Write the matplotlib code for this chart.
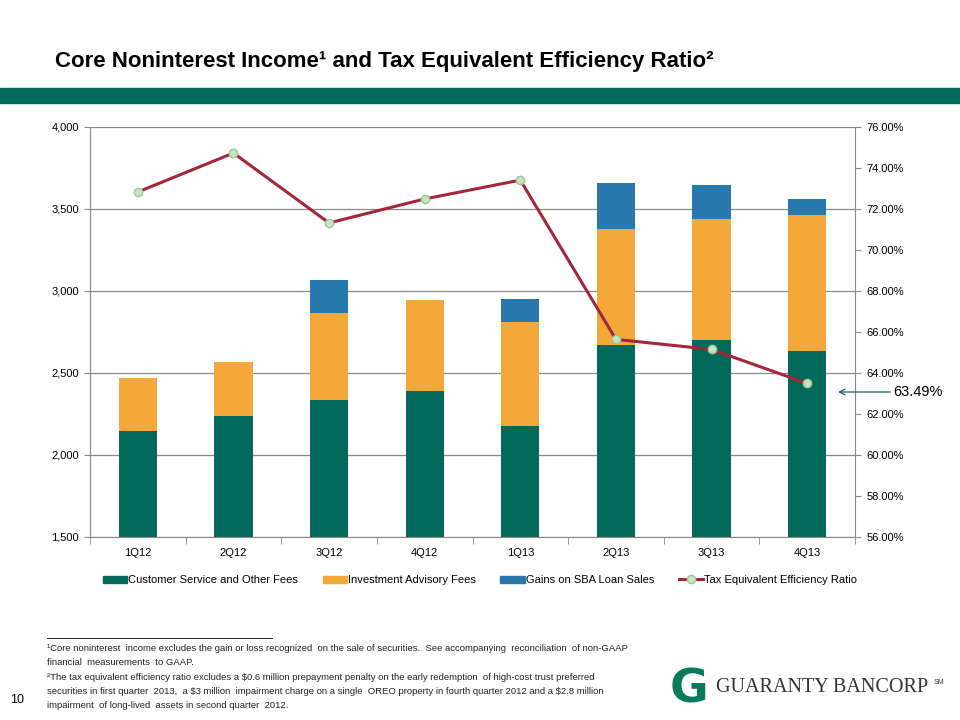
# Core noninterest income + tax equivalent efficiency ratio (slide recreation)
import matplotlib
matplotlib.use("Agg")
from matplotlib import pyplot as plt
from matplotlib.patches import Patch
from matplotlib.lines import Line2D
import numpy as np

quarters = ["1Q12", "2Q12", "3Q12", "4Q12", "1Q13", "2Q13", "3Q13", "4Q13"]
customer_fees = [2145, 2238, 2335, 2390, 2177, 2671, 2701, 2636]
advisory_fees = [325, 329, 531, 555, 634, 705, 740, 827]
sba_gains = [0, 0, 201, 0, 140, 284, 205, 98]
efficiency_ratio = [72.83, 74.73, 71.32, 72.49, 73.41, 65.64, 65.15, 63.49]

GREEN = "#03695A"
ORANGE = "#F4A83A"
BLUE = "#2878AE"
RED = "#A3263A"

plt.rcParams["font.family"] = ["Liberation Sans", "DejaVu Sans"]

fig = plt.figure(figsize=(9.6, 7.2), dpi=100)

# header
fig.text(55 / 960, 1 - 67 / 720, "Core Noninterest Income¹ and Tax Equivalent Efficiency Ratio²",
         fontsize=16, fontweight="bold", va="baseline", ha="left")
fig.patches.append(plt.Rectangle((0, 1 - 103 / 720), 1, 15 / 720, transform=fig.transFigure,
                                 color="#006B5B", zorder=0))

ax = fig.add_axes([90 / 960, 1 - 537 / 720, 765 / 960, 410 / 720])
x = np.arange(len(quarters))
w = 0.4
cust = np.array(customer_fees)
adv = np.array(advisory_fees)
sba = np.array(sba_gains)
ax.bar(x, cust, w, color=GREEN, linewidth=0, zorder=2)
ax.bar(x, adv, w, bottom=cust, color=ORANGE, linewidth=0, zorder=2)
ax.bar(x, sba, w, bottom=cust + adv, color=BLUE, linewidth=0, zorder=2)

ax.set_ylim(1500, 4000)
ax.set_yticks(np.arange(1500, 4001, 500))
ax.set_yticklabels([f"{v:,}" for v in range(1500, 4001, 500)], fontsize=8)
ax.set_xlim(-0.5, 7.5)
ax.set_xticks(x)
ax.set_xticklabels(quarters, fontsize=8)
ax.set_xticks(np.arange(-0.5, 8, 1), minor=True)
ax.tick_params(axis="x", which="major", length=0, pad=8)
ax.tick_params(axis="x", which="minor", length=5, color="#888888")
ax.tick_params(axis="y", length=4, color="#888888", pad=4)
ax.grid(axis="y", color="#888888", linewidth=0.9, zorder=0)
ax.set_axisbelow(True)
for s in ["top", "right"]:
    ax.spines[s].set_visible(False)
for s in ["left", "bottom"]:
    ax.spines[s].set_color("#888888")

ax2 = ax.twinx()
ax2.plot(x, efficiency_ratio, color=RED, linewidth=2.2, marker="o", markersize=6,
         markerfacecolor="#C5E5C0", markeredgecolor="#9CC79A", zorder=3)
ax2.set_ylim(56, 76)
ax2.set_yticks(np.arange(56, 77, 2))
ax2.set_yticklabels([f"{v:.2f}%" for v in range(56, 77, 2)], fontsize=8)
ax2.tick_params(axis="y", length=4, color="#888888", pad=4)
for s in ["top", "left", "bottom"]:
    ax2.spines[s].set_visible(False)
ax2.spines["right"].set_color("#888888")

ax2.annotate("63.49%", xy=(838 / 960, 1 - 392 / 720), xycoords="figure fraction",
             xytext=(893 / 960, 1 - 392 / 720), textcoords="figure fraction",
             fontsize=10.5, va="center", ha="left",
             arrowprops=dict(arrowstyle="->", color="#1F5F5F", lw=0.9, shrinkA=0, shrinkB=0))

handles = [Patch(color=GREEN), Patch(color=ORANGE), Patch(color=BLUE),
           Line2D([], [], color=RED, lw=2.2, marker="o", markersize=6,
                  markerfacecolor="#C5E5C0", markeredgecolor="#9CC79A")]
labels = ["Customer Service and Other Fees", "Investment Advisory Fees",
          "Gains on SBA Loan Sales", "Tax Equivalent Efficiency Ratio"]
fig.legend(handles, labels, loc="center", bbox_to_anchor=(0.5, 1 - 580 / 720), ncol=4,
           frameon=False, fontsize=8, handlelength=2.2, handleheight=0.6,
           handletextpad=0.1, columnspacing=2.2)

# footnotes
fig.add_artist(Line2D([47 / 960, 272 / 960], [1 - 638 / 720] * 2, color="black", lw=0.6))
notes = ("¹Core noninterest  income excludes the gain or loss recognized  on the sale of securities.  "
         "See accompanying  reconciliation  of non-GAAP\nfinancial  measurements  to GAAP.\n"
         "²The tax equivalent efficiency ratio excludes a \\$0.6 million prepayment penalty on the early "
         "redemption  of high-cost trust preferred\nsecurities in first quarter  2013,  a \\$3 million  "
         "impairment charge on a single  OREO property in fourth quarter 2012 and a \\$2.8 million\n"
         "impairment  of long-lived  assets in second quarter  2012.")
fig.text(47 / 960, 1 - 644 / 720, notes, fontsize=6.8, va="top", ha="left",
         linespacing=1.75, color="#222222")
fig.text(10 / 960, 1 - 700 / 720, "10", fontsize=9, va="center", ha="left")

# logo
fig.text(670 / 960, 1 - 690 / 720, "G", fontsize=34, fontweight="bold", color="#0A7A5C",
         va="center", ha="left", family="DejaVu Sans")
fig.text(716 / 960, 1 - 688 / 720, "GUARANTY BANCORP", fontsize=14.5, color="#333333",
         va="center", ha="left", family="Liberation Serif")
fig.text(934 / 960, 1 - 683 / 720, "SM", fontsize=5, color="#333333",
         va="center", ha="left", family="Liberation Sans")

fig.savefig("out.png", dpi=100)
